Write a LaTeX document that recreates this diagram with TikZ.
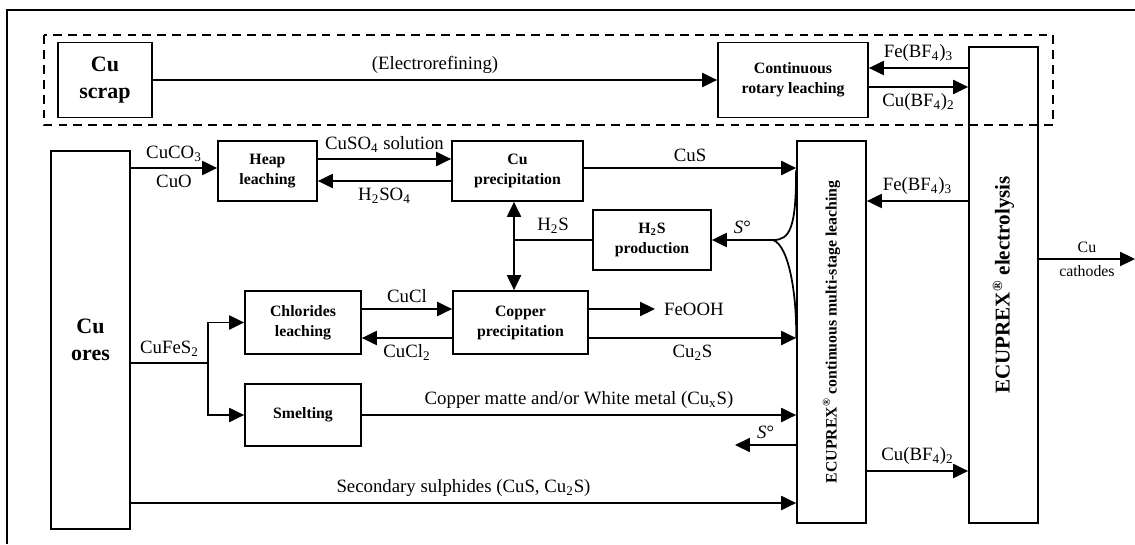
\documentclass[tikz,border=0pt]{standalone}
\usepackage{fontspec}
\setmainfont{Liberation Serif}
\usetikzlibrary{arrows.meta}

\newcommand{\pxu}{0.02cm}

\tikzset{
  box/.style={draw, line width=1pt, align=center, inner sep=0pt,
    font=\fontsize{9}{11.4}\selectfont\bfseries},
  bigbox/.style={box, font=\fontsize{12.5}{15.5}\selectfont\bfseries},
  arr/.style={-{Triangle[length=8.5pt,width=8pt]}, line width=1pt},
  link/.style={line width=1pt},
}

\begin{document}
\begin{tikzpicture}[x=0.02cm, y=-0.02cm, font=\fontsize{10.7}{12}\selectfont]

\useasboundingbox (0,0) rectangle (1135,544);

\draw [line width=1.4pt] (1135,10) -- (7,10) -- (7,544);
\draw [line width=1pt, dash pattern=on 5pt off 3.5pt] (44,35) rectangle (1053,125);

\node [bigbox, minimum width=94*\pxu, minimum height=75*\pxu] (scrap) at (105,80) {Cu\\scrap};
\node [box, minimum width=150*\pxu, minimum height=75*\pxu] (rotary) at (793,80) {Continuous\\rotary leaching};
\node [box, minimum width=69*\pxu, minimum height=476*\pxu] (elec) at (1003.5,285) {};
\node [rotate=90, font=\fontsize{12}{14}\selectfont\bfseries] (electxt) at (elec.center) {ECUPREX\textsuperscript{\textregistered} electrolysis};

\node [bigbox, minimum width=79*\pxu, minimum height=378*\pxu] (ores) at (90.5,340) {Cu\\ores};
\node [box, minimum width=99*\pxu, minimum height=60*\pxu] (heap) at (267.5,171) {Heap\\leaching};
\node [box, minimum width=131*\pxu, minimum height=60*\pxu] (cuprec) at (517.5,171) {Cu\\precipitation};
\node [box, minimum width=69*\pxu, minimum height=382*\pxu] (leach) at (831.5,332) {};
\node [rotate=90, font=\fontsize{9}{10}\selectfont\bfseries] (leachtxt) at (leach.center) {ECUPREX\textsuperscript{\textregistered} continuous multi-stage leaching};
\node [box, minimum width=118*\pxu, minimum height=60*\pxu] (h2s) at (652,240) {H\textsubscript{2}S\\production};
\node [box, minimum width=116*\pxu, minimum height=63*\pxu] (chlor) at (303,322.5) {Chlorides\\leaching};
\node [box, minimum width=135*\pxu, minimum height=63*\pxu] (copprec) at (520.5,322.5) {Copper\\precipitation};
\node [box, minimum width=116*\pxu, minimum height=62*\pxu] (smelt) at (303,415) {Smelting};
\node [anchor=west, inner xsep=5pt] (feooh) at (655,309) {FeOOH};

\coordinate (hub) at (514,240);
\coordinate (split) at (208,363);
\coordinate (sbrace) at (773,240);
\coordinate (sout) at (735,445);
\coordinate (cathode) at (1135,259);

\draw [arr] (scrap) -- (rotary) node [midway, above] (eref) {(Electrorefining)};
\draw [arr] (elec.west |- 0,68) -- (rotary.east |- 0,68) node [midway, above] (febfa) {Fe(BF\textsubscript{4})\textsubscript{3}};
\draw [arr] (rotary.east |- 0,87) -- (elec.west |- 0,87) node [midway, below] (cubfa) {Cu(BF\textsubscript{4})\textsubscript{2}};

\draw [arr] (ores.east |- 0,168) -- (heap.west |- 0,168) node [midway, above] (cuco) {CuCO\textsubscript{3}} node [midway, below] (cuo) {CuO};
\draw [arr] (heap.east |- 0,159) -- (cuprec.west |- 0,159) node [midway, above] (cuso) {CuSO\textsubscript{4} solution};
\draw [arr] (cuprec.west |- 0,181) -- (heap.east |- 0,181) node [midway, below] (hso) {H\textsubscript{2}SO\textsubscript{4}};
\draw [arr] (cuprec.east |- 0,168) -- (leach.west |- 0,168) node [midway, above] (cus) {CuS};
\draw [arr] (elec.west |- 0,201) -- (leach.east |- 0,201) node [midway, above] (febfb) {Fe(BF\textsubscript{4})\textsubscript{3}};

\draw [arr] (hub) -- (cuprec.south -| hub);
\draw [arr] (hub) -- (copprec.north -| hub);
\draw [link] (h2s.west) -- (hub) node [midway, above] (hs) {H\textsubscript{2}S};
\draw [link] (leach.west |- 0,170) .. controls (leach.west |- 0,228) and (790,240) .. (sbrace)
  .. controls (790,246) and (797,300) .. (leach.west |- 0,338);
\draw [arr] (sbrace) -- (h2s.east) node [midway, above] (sa) {\textit{S}°};

\draw [arr] (chlor.east |- 0,309) -- (copprec.west |- 0,309) node [midway, above] (cucl) {CuCl};
\draw [arr] (copprec.west |- 0,338) -- (chlor.east |- 0,338) node [midway, below] (cucltwo) {CuCl\textsubscript{2}};
\draw [arr] (copprec.east |- feooh.west) -- (feooh.west);
\draw [arr] (copprec.east |- 0,338) -- (leach.west |- 0,338) node [midway, below] (custwo) {Cu\textsubscript{2}S};

\draw [link] (ores.east |- split) -- (split) node [midway, above] (cufes) {CuFeS\textsubscript{2}};
\draw [arr] (split) |- (chlor.west);
\draw [arr] (split) |- (smelt.west);
\draw [arr] (smelt.east) -- (leach.west |- smelt.east) node [midway, above] (matte) {Copper matte and/or White metal (Cu\textsubscript{x}S)};
\draw [arr] (leach.west |- sout) -- (sout) node [midway, above] (sb) {\textit{S}°};
\draw [arr] (ores.east |- 0,503) -- (leach.west |- 0,503) node [midway, above] (secs) {Secondary sulphides (CuS, Cu\textsubscript{2}S)};
\draw [arr] (leach.east |- 0,471) -- (elec.west |- 0,471) node [midway, above] (cubfb) {Cu(BF\textsubscript{4})\textsubscript{2}};

\draw [arr] (elec.east |- cathode) -- (cathode)
  node [midway, above, font=\fontsize{9}{10}\selectfont] (cu) {Cu}
  node [midway, below, font=\fontsize{9}{10}\selectfont] (cath) {cathodes};

\end{tikzpicture}
\end{document}
